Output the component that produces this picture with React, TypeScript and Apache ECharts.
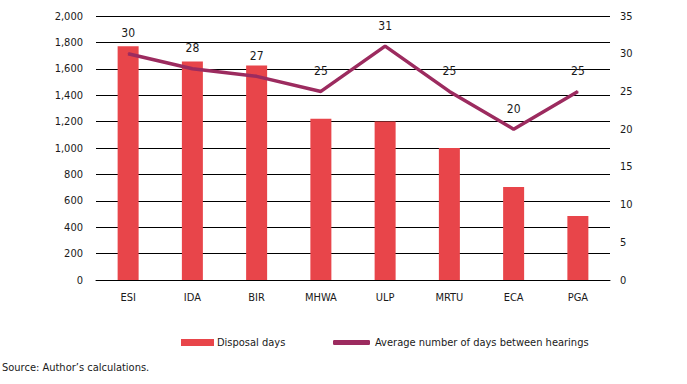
import React, { useEffect, useRef } from "react";
import * as echarts from "echarts";

const categories = ["ESI", "IDA", "BIR", "MHWA", "ULP", "MRTU", "ECA", "PGA"];
const disposalDays = [1770, 1655, 1625, 1222, 1200, 1000, 705, 485];
const avgDaysBetweenHearings = [30, 28, 27, 25, 31, 25, 20, 25];
const barName = "Disposal days";
const lineName = "Average number of days between hearings";
const sourceText = "Source: Author\u2019s calculations.";

const FONT = "'Liberation Sans Narrow', 'DejaVu Sans Condensed', sans-serif";
const FS = 11;
const BAR_COLOR = "#E8454A";
const LINE_COLOR = "#9C2B5F";
const TEXT = "#1a1a1a";

export default function App() {
  const ref = useRef<HTMLDivElement>(null);
  useEffect(() => {
    if (!ref.current) return;
    const chart = echarts.init(ref.current, undefined, { renderer: "svg" });
    chart.setOption({
      animation: false,
      backgroundColor: "#ffffff",
      textStyle: { fontFamily: FONT, color: TEXT },
      grid: { left: 96, right: 77, top: 16, bottom: 104 },
      legend: [
        {
          left: 176,
          top: 332,
          data: [{ name: barName, icon: "rect" }],
          itemWidth: 33,
          itemHeight: 7,
          itemGap: 0,
          textStyle: { fontFamily: FONT, fontSize: FS, color: TEXT, padding: [0, 0, 0, -2] },
        },
        {
          left: 328,
          top: 332,
          data: [{ name: lineName, icon: "roundRect" }],
          itemWidth: 37,
          itemHeight: 5,
          itemGap: 0,
          textStyle: { fontFamily: FONT, fontSize: FS, color: TEXT, padding: [0, 0, 0, 0] },
        },
      ],
      xAxis: {
        type: "category",
        data: categories,
        axisLine: { show: true, lineStyle: { color: "#000", width: 1 } },
        axisTick: { show: false },
        axisLabel: { fontFamily: FONT, fontSize: FS, color: TEXT, margin: 12 },
      },
      yAxis: [
        {
          type: "value",
          min: 0,
          max: 2000,
          interval: 200,
          axisLine: { show: false },
          axisTick: { show: false },
          splitLine: { show: true, lineStyle: { color: "#000", width: 1 } },
          axisLabel: {
            fontFamily: FONT,
            fontSize: FS,
            color: TEXT,
            margin: 13,
            formatter: (v: number) => v.toLocaleString("en-US"),
          },
        },
        {
          type: "value",
          min: 0,
          max: 35,
          interval: 5,
          axisLine: { show: false },
          axisTick: { show: false },
          splitLine: { show: false },
          axisLabel: { fontFamily: FONT, fontSize: FS, color: TEXT, margin: 10 },
        },
      ],
      series: [
        {
          name: barName,
          type: "bar",
          data: disposalDays,
          barWidth: 21,
          itemStyle: { color: BAR_COLOR },
        },
        {
          name: lineName,
          type: "line",
          yAxisIndex: 1,
          data: avgDaysBetweenHearings,
          symbol: "circle",
          symbolSize: 1,
          itemStyle: { color: LINE_COLOR },
          lineStyle: { color: LINE_COLOR, width: 3.5 },
          label: {
            show: true,
            position: "top",
            distance: 14,
            fontFamily: FONT,
            fontSize: 12,
            color: TEXT,
          },
        },
      ],
      graphic: [
        {
          type: "text",
          left: 2,
          top: 362,
          style: { text: sourceText, fontFamily: FONT, fontSize: FS, fill: TEXT },
        },
      ],
    });
    return () => chart.dispose();
  }, []);
  return (
    <div
      ref={ref}
      style={{ position: "fixed", left: 0, top: 0, width: 687, height: 384 }}
    />
  );
}
